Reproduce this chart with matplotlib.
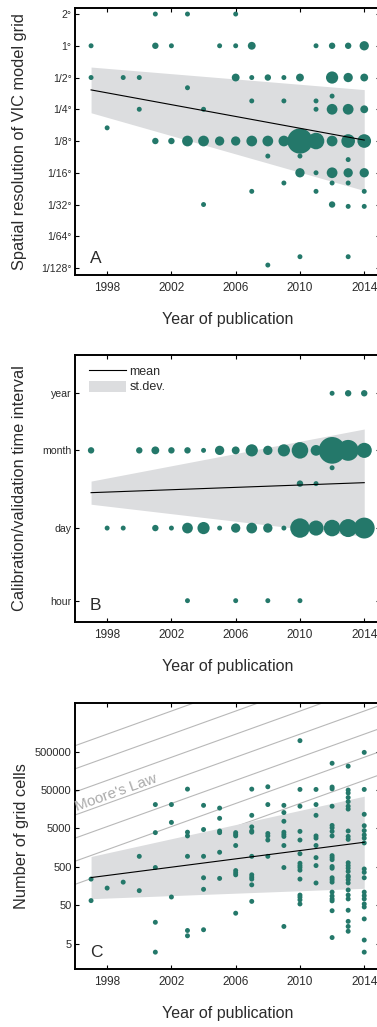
import matplotlib
matplotlib.use('Agg')
import numpy as np
import matplotlib.pyplot as plt
from matplotlib.lines import Line2D
from matplotlib.patches import Patch
from matplotlib.ticker import NullLocator, FixedLocator, FixedFormatter

plt.rcParams['font.family'] = ['Liberation Sans', 'DejaVu Sans']

DOT = '#24786a'
BAND = '#dcdddf'
TXT = '#2b2b2b'
MOORE = '#b8b8b8'

# ---------------- Panel A: spatial resolution of the VIC grid (degrees) ----------------
a_year = [2001, 2003, 2006,
          1997, 2001, 2002, 2005, 2006, 2007, 2011, 2012, 2013, 2014,
          1997, 1999, 2000, 2006, 2007, 2008, 2009, 2010, 2012, 2013, 2014,
          2003, 2012, 2007, 2009, 2011,
          2000, 2004, 2011, 2012, 2013, 2014,
          1998,
          2001, 2002, 2003, 2004, 2005, 2006, 2007, 2008, 2009, 2010, 2011, 2012, 2013, 2014,
          2008, 2010, 2013,
          2010, 2011, 2012, 2013, 2014,
          2009, 2012, 2013,
          2007, 2011, 2014,
          2004, 2012, 2013, 2014,
          2010, 2013,
          2008]
a_res = [2, 2, 2,
         1, 1, 1, 1, 1, 1, 1, 1, 1, 1,
         1/2, 1/2, 1/2, 1/2, 1/2, 1/2, 1/2, 1/2, 1/2, 1/2, 1/2,
         0.4, 1/3, 0.3, 0.3, 0.3,
         1/4, 1/4, 1/4, 1/4, 1/4, 1/4,
         1/6,
         1/8, 1/8, 1/8, 1/8, 1/8, 1/8, 1/8, 1/8, 1/8, 1/8, 1/8, 1/8, 1/8, 1/8,
         0.09, 0.09, 1/12,
         1/16, 1/16, 1/16, 1/16, 1/16,
         0.05, 0.05, 0.05,
         1/24, 1/24, 1/24,
         1/32, 1/32, 0.03, 0.03,
         0.01, 0.01,
         1/120]
a_count = [1, 1, 1,
           1, 2, 1, 1, 1, 3, 1, 2, 2, 4,
           1, 1, 1, 3, 1, 2, 1, 3, 6, 4, 3,
           1, 1, 1, 1, 1,
           1, 1, 1, 5, 5, 3,
           1,
           2, 2, 5, 5, 4, 4, 5, 5, 5, 15, 9, 5, 7, 7,
           1, 1, 1,
           4, 1, 5, 4, 4,
           1, 1, 1,
           1, 1, 1,
           1, 2, 1, 1,
           1, 1,
           1]
a_fit_year = [1997, 2014]
a_mean_log2 = [-1.39, -2.97]
a_sd_log2 = [0.72, 1.59]
a_ticks = [1/128, 1/64, 1/32, 1/16, 1/8, 1/4, 1/2, 1, 2]
a_ticklabels = ['1/128°', '1/64°', '1/32°', '1/16°', '1/8°', '1/4°', '1/2°', '1°', '2°']

# ---------------- Panel B: calibration/validation time step (days) ----------------
b_year = [2012, 2013, 2014,
          1997, 2000, 2001, 2002, 2003, 2004, 2005, 2006, 2007, 2008, 2009, 2010, 2011, 2012, 2013, 2014,
          2012, 2010, 2011,
          1998, 1999, 2001, 2002, 2003, 2004, 2005, 2006, 2007, 2008, 2009, 2010, 2011, 2012, 2013, 2014,
          2003, 2006, 2008, 2010]
b_step = [365, 365, 365,
          30, 30, 30, 30, 30, 30, 30, 30, 30, 30, 30, 30, 30, 30, 30, 30,
          14, 7, 7,
          1, 1, 1, 1, 1, 1, 1, 1, 1, 1, 1, 1, 1, 1, 1, 1,
          1/24, 1/24, 1/24, 1/24]
b_count = [1, 2, 2,
           2, 2, 3, 2, 2, 1, 4, 3, 6, 4, 6, 9, 5, 16, 12, 8,
           1, 2, 1,
           1, 1, 2, 1, 5, 6, 1, 4, 5, 4, 1, 11, 8, 9, 10, 12,
           1, 1, 1, 1]
b_fit_year = [1997, 2014]
b_mean_log10 = [0.673, 0.863]
b_sd_log10 = [0.22, 1.02]
b_ticks = [1/24, 1, 30, 365]
b_ticklabels = ['hour', 'day', 'month', 'year']

# ---------------- Panel C: number of grid cells ----------------
c_year = ([1997] * 2 + [1998] + [1999] + [2000] * 2 + [2001] * 5 + [2002] * 3 + [2003] * 6
          + [2004] * 6 + [2005] * 6 + [2006] * 8 + [2007] * 11 + [2008] * 6 + [2009] * 9
          + [2010] * 15 + [2011] * 9 + [2012] * 22 + [2013] * 25 + [2014] * 19)
c_cells = [240, 66,
           140,
           200,
           940, 120,
           21000, 3900, 480, 18, 3.0,
           21000, 7200, 82,
           53000, 4000, 3200, 940, 11, 8,
           20000, 4700, 940, 260, 130, 11.5,
           17000, 9200, 4300, 3900, 1200, 250,
           3900, 3500, 3200, 1800, 400, 350, 310, 31,
           53000, 11000, 5500, 4300, 4000, 940, 310, 270, 240, 170, 63,
           61000, 21000, 3700, 3200, 2500, 940,
           20000, 13000, 7700, 4000, 3500, 3100, 1800, 480, 14,
           970000, 52000, 19000, 4200, 2500, 1100, 620, 540, 480, 410, 240, 92, 81, 69, 54,
           52000, 21000, 11000, 3200, 2800, 1800, 870, 540, 190,
           250000, 60000, 54000, 19000, 6000, 5200, 4200, 3200, 980, 870, 770, 510, 460, 260,
           230, 200, 110, 87, 73, 65, 36, 7.2,
           210000, 50000, 42000, 32000, 25000, 19000, 16000, 4300, 3100, 2600, 640, 540, 460,
           380, 290, 270, 230, 190, 125, 92, 73, 37, 19, 14, 10.5,
           480000, 52000, 11700, 5900, 4400, 3400, 2800, 2100, 440, 360, 260, 110, 89, 73, 54,
           45, 22, 6.2, 3.0]
c_fit_year = [1997, 2014]
c_mean_log10 = [2.42, 3.34]
c_sd_log10 = [0.55, 1.20]
c_ticks = [5, 50, 500, 5000, 50000, 500000]
# Moore's law guides: cell count in 1996, doubling every two years
moore_start = [716000, 179000, 44700, 11200, 2800, 700, 175]

years_ticks = [1998, 2002, 2006, 2010, 2014]


def dot_area(n):
    d_px = 3.5 + 1.45 * np.asarray(n, dtype=float)
    return (d_px * 72 / 100) ** 2


fig = plt.figure(figsize=(3.77, 10.27), dpi=100)
H = 1027.0
W = 377.0
left = 75 / W
width = 305.3 / W


def make_axes(top_px, bottom_px):
    return fig.add_axes([left, (H - bottom_px) / H, width, (bottom_px - top_px) / H])


def style(ax, letter, ylabel, ylab_x=-0.182):
    ax.set_xlim(1996, 2015)
    ax.set_xticks(years_ticks)
    ax.xaxis.set_minor_locator(NullLocator())
    ax.yaxis.set_minor_locator(NullLocator())
    ax.tick_params(axis='both', direction='in', length=3, width=0.8, top=True, right=True,
                   labelcolor=TXT)
    ax.tick_params(axis='x', labelsize=8.5, pad=5)
    ax.tick_params(axis='y', pad=2.5)
    for sp in ax.spines.values():
        sp.set_linewidth(1.4)
    ax.set_xlabel('Year of publication', fontsize=11.5, color=TXT, va='center')
    ax.xaxis.set_label_coords(0.5, -0.168)
    ax.set_ylabel(ylabel, fontsize=11.8, color=TXT, va='center')
    ax.yaxis.set_label_coords(ylab_x, 0.5)
    ax.text(0.049, 0.062, letter, transform=ax.transAxes, fontsize=12.5, color=TXT,
            ha='left', va='center')


def band(ax, years, mean_log, sd_log, base):
    m = np.asarray(mean_log)
    s = np.asarray(sd_log)
    ax.fill_between(years, base ** (m - s), base ** (m + s), color=BAND, lw=0, zorder=2)
    ax.plot(years, base ** m, color='black', lw=0.8, zorder=5)


# ---- A ----
axA = make_axes(8, 275)
axA.set_yscale('log', base=2)
axA.set_ylim(2 ** -7.22, 2 ** 1.19)
band(axA, a_fit_year, a_mean_log2, a_sd_log2, 2.0)
axA.scatter(a_year, a_res, s=dot_area(a_count), color=DOT, lw=0, zorder=4)
axA.yaxis.set_major_locator(FixedLocator(a_ticks))
axA.yaxis.set_major_formatter(FixedFormatter(a_ticklabels))
axA.tick_params(axis='y', labelsize=7.5)
style(axA, 'A', 'Spatial resolution of VIC model grid')

# ---- B ----
axB = make_axes(355, 621.7)
axB.set_yscale('log')
axB.set_ylim(10 ** -1.78, 10 ** 3.29)
band(axB, b_fit_year, b_mean_log10, b_sd_log10, 10.0)
axB.scatter(b_year, b_step, s=dot_area(b_count), color=DOT, lw=0, zorder=4)
axB.yaxis.set_major_locator(FixedLocator(b_ticks))
axB.yaxis.set_major_formatter(FixedFormatter(b_ticklabels))
axB.tick_params(axis='y', labelsize=7.6)
style(axB, 'B', 'Calibration/validation time interval')
handles = [Line2D([], [], color='black', lw=0.8), Patch(facecolor=BAND, edgecolor='none')]
axB.legend(handles, ['mean', 'st.dev.'], loc='upper left', bbox_to_anchor=(0.02, 0.99),
           frameon=False, fontsize=9, handlelength=3.0, handleheight=1.0,
           handletextpad=0.25, labelspacing=0.2, borderaxespad=0.2, labelcolor=TXT)

# ---- C ----
axC = make_axes(703.3, 969.3)
axC.set_yscale('log')
axC.set_ylim(10 ** 0.03, 10 ** 6.96)
yrs = np.array([1996.0, 2015.0])
for n0 in moore_start:
    axC.plot(yrs, n0 * 2.0 ** ((yrs - 1996) / 2), color=MOORE, lw=0.8, zorder=1)
band(axC, c_fit_year, c_mean_log10, c_sd_log10, 10.0)
axC.scatter(c_year, c_cells, s=dot_area(np.ones(len(c_cells))), color=DOT, lw=0, zorder=4)
axC.yaxis.set_major_locator(FixedLocator(c_ticks))
axC.yaxis.set_major_formatter(FixedFormatter([str(t) for t in c_ticks]))
axC.tick_params(axis='y', labelsize=8)
style(axC, 'C', 'Number of grid cells', ylab_x=-0.175)

# label following the slope of the Moore's law guides
p0 = axC.transData.transform((1996, moore_start[3]))
p1 = axC.transData.transform((2015, moore_start[3] * 2.0 ** 9.5))
angle = np.degrees(np.arctan2(p1[1] - p0[1], p1[0] - p0[0]))
axC.text(1996.15, moore_start[3] * 2.0 ** 0.1 * 1.2, "Moore's Law", color='#aaaaaa',
         fontsize=11, rotation=angle, rotation_mode='anchor', ha='left', va='baseline',
         zorder=3)

fig.savefig('out.png', dpi=100)
